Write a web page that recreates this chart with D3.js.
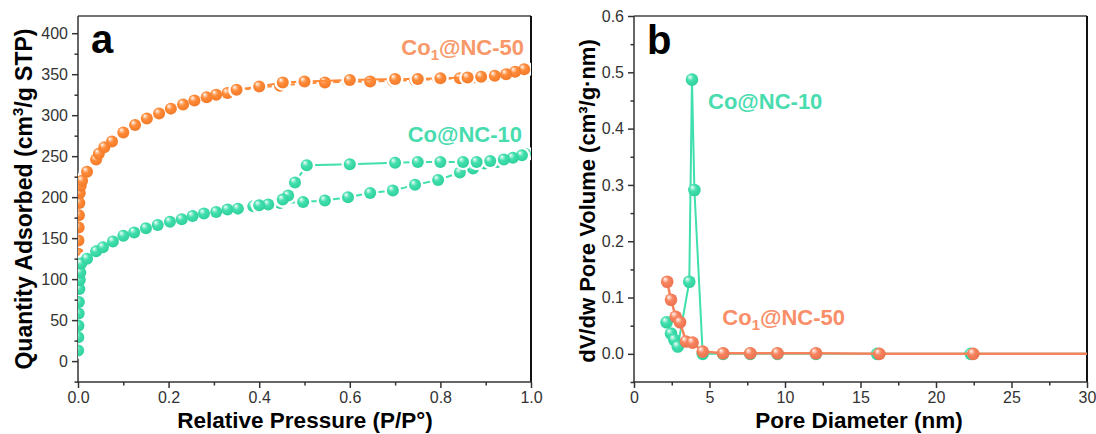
<!DOCTYPE html>
<html><head><meta charset="utf-8">
<script src="https://cdn.jsdelivr.net/npm/d3@7"></script>
<style>
body{margin:0;background:#fff;}
svg{display:block;font-family:"Liberation Sans",Arial,sans-serif;}
</style></head>
<body>
<svg id="chart" width="1096" height="434"></svg>
<script>
// ---------- Panel a: N2 isotherms ----------
const co50AdsP = [0.0005,0.001,0.0015,0.002,0.003,0.004,0.006,0.009,0.02,0.04,0.046,0.058,0.075,0.1,0.126,0.152,0.179,0.205,0.232,0.257,0.284,0.305,0.33,0.353,0.398,0.446,0.497,0.545,0.596,0.645,0.695,0.744,0.795,0.843,0.872,0.898,0.925,0.95,0.97,0.987];
const co50AdsQ = [131,147,163,178,193,205,214,220,231,246,253,261,268,279,288,296,302,308,313,318,322,325,327,330,334,336,339,340,341,341,342,343,344,345,346,347,348,350,353,356];
const co50DesP = [0.985,0.965,0.945,0.92,0.89,0.86,0.8,0.75,0.7,0.6,0.5,0.452,0.4,0.35];
const co50DesQ = [356,353,350,348,347,346,345,344,344,343,341,340,335,331];
const co10AdsP = [0.0003,0.0006,0.001,0.0015,0.002,0.003,0.004,0.005,0.007,0.02,0.04,0.055,0.077,0.1,0.124,0.15,0.176,0.203,0.229,0.253,0.278,0.305,0.33,0.353,0.387,0.4,0.446,0.497,0.545,0.596,0.645,0.695,0.744,0.795,0.843,0.872,0.898,0.925,0.95,0.97,0.987];
const co10AdsQ = [13,29,43,58,72,88,99,108,119,125,134,139,146,153,157,162,166,170,173,177,180,182,185,186,189,189,193,194,196,200,205,208,215,221,230,235,241,243,246,249,253];
const co10DesP = [0.98,0.96,0.94,0.91,0.88,0.85,0.8,0.75,0.7,0.6,0.505,0.479,0.464,0.452,0.42,0.4];
const co10DesQ = [251,248,246,244,243,243,243,243,242,240,239,218,202,197,191,190];
const aXTicks = [0,0.2,0.4,0.6,0.8,1.0];
const aYTicks = [0,50,100,150,200,250,300,350,400];

// ---------- Panel b: pore size distribution ----------
const co10PoreD = [2.16,2.45,2.67,2.9,3.66,3.84,4.0,4.55,5.9,7.7,9.5,12.05,16.1,22.3,33];
const co10PoreV = [0.056,0.036,0.025,0.013,0.128,0.487,0.291,0.0,0.0,0.0,0.0,0.0,0.0,0.0,0.0];
const co50PoreD = [2.2,2.45,2.76,3.05,3.44,3.88,4.55,5.9,7.7,9.5,12.05,16.25,22.47,33];
const co50PoreV = [0.128,0.096,0.066,0.056,0.022,0.020,0.004,0.001,0.001,0.001,0.001,0.0,0.0,0.0];
const bXTicks = [0,5,10,15,20,25,30];
const bYTicks = [0.0,0.1,0.2,0.3,0.4,0.5,0.6];

const svg = d3.select("#chart");
const defs = svg.append("defs");

function sphere(id, base, dark){
  const g = defs.append("radialGradient").attr("id", id)
    .attr("cx","0.45").attr("cy","0.42").attr("r","0.6").attr("fx","0.32").attr("fy","0.28");
  g.append("stop").attr("offset","0").attr("stop-color","#ffffff");
  g.append("stop").attr("offset","0.22").attr("stop-color", d3.interpolateRgb("#ffffff", base)(0.55));
  g.append("stop").attr("offset","0.45").attr("stop-color", base);
  g.append("stop").attr("offset","1").attr("stop-color", dark);
}
const ORA = "#ff8a38", GRN = "#40dfad", SAL = "#f7835d";
sphere("gOra", ORA, "#f27a28");
sphere("gGrn", GRN, "#2fcf9c");
sphere("gSal", SAL, "#ec7250");

const tickColor = "#333";
function panel(opts){
  const {x0,x1,y0,y1,xDom,yDom,xTicks,yTicks,xMinor,yMinor,xFmt,yFmt,id} = opts;
  const x = d3.scaleLinear().domain(xDom).range([x0,x1]);
  const y = d3.scaleLinear().domain(yDom).range([y1,y0]);
  const g = svg.append("g");
  defs.append("clipPath").attr("id", id).append("rect")
    .attr("x", x0).attr("y", y0).attr("width", x1-x0).attr("height", y1-y0);
  const xa = d3.axisBottom(x).tickValues(xMinor).tickSize(3.5).tickFormat("");
  g.append("g").attr("transform",`translate(0,${y1})`).call(xa).call(s=>s.select(".domain").remove())
    .selectAll("line").attr("stroke",tickColor).attr("stroke-width",1.5);
  const ya = d3.axisLeft(y).tickValues(yMinor).tickSize(3.5).tickFormat("");
  g.append("g").attr("transform",`translate(${x0},0)`).call(ya).call(s=>s.select(".domain").remove())
    .selectAll("line").attr("stroke",tickColor).attr("stroke-width",1.5);
  const xA = d3.axisBottom(x).tickValues(xTicks).tickSize(6).tickPadding(4).tickFormat(xFmt);
  const gx = g.append("g").attr("transform",`translate(0,${y1})`).call(xA);
  gx.select(".domain").remove();
  gx.selectAll("line").attr("stroke",tickColor).attr("stroke-width",1.5);
  gx.selectAll("text").attr("font-size",16).attr("fill",tickColor).attr("font-family","Liberation Sans, Arial, sans-serif");
  const yA = d3.axisLeft(y).tickValues(yTicks).tickSize(6).tickPadding(4).tickFormat(yFmt);
  const gy = g.append("g").attr("transform",`translate(${x0},0)`).call(yA);
  gy.select(".domain").remove();
  gy.selectAll("line").attr("stroke",tickColor).attr("stroke-width",1.5);
  gy.selectAll("text").attr("font-size",16).attr("fill",tickColor).attr("font-family","Liberation Sans, Arial, sans-serif");
  g.append("line").attr("x1",x0).attr("x2",x1).attr("y1",y0).attr("y2",y0).attr("stroke","#444").attr("stroke-width",1.5);
  g.append("line").attr("x1",x1).attr("x2",x1).attr("y1",y0).attr("y2",y1).attr("stroke","#111").attr("stroke-width",2);
  g.append("line").attr("x1",x0).attr("x2",x0).attr("y1",y0).attr("y2",y1+0.75).attr("stroke","#333").attr("stroke-width",1.5);
  g.append("line").attr("x1",x0-0.75).attr("x2",x1+1).attr("y1",y1).attr("y2",y1).attr("stroke","#333").attr("stroke-width",1.5);
  const plot = svg.append("g").attr("clip-path",`url(#${id})`);
  return {x,y,plot};
}

function series(p, xs, ys, color, grad, opt){
  const pts = xs.map((v,i)=>[v, ys[i]]);
  const line = d3.line().x(d=>p.x(d[0])).y(d=>p.y(d[1]));
  p.plot.append("path").attr("d", line(pts)).attr("fill","none")
    .attr("stroke", color).attr("stroke-width", opt.lw).attr("stroke-linejoin","round");
  if (opt.halo){
    p.plot.append("g").selectAll("circle").data(pts).join("circle")
      .attr("cx",d=>p.x(d[0])).attr("cy",d=>p.y(d[1])).attr("r",opt.r+2.4).attr("fill","#fff");
  }
  p.plot.append("g").selectAll("circle").data(pts).join("circle")
    .attr("cx",d=>p.x(d[0])).attr("cy",d=>p.y(d[1])).attr("r",opt.r).attr("fill",`url(#${grad})`);
}

const pa = panel({id:"clipA", x0:78, x1:531, y0:16, y1:382, xDom:[0,1], yDom:[-25.5,421],
  xTicks:aXTicks, yTicks:aYTicks, xMinor:[0.1,0.3,0.5,0.7,0.9], yMinor:d3.range(-25,425,50),
  xFmt:d3.format(".1f"), yFmt:d3.format("d")});
series(pa, co50AdsP, co50AdsQ, ORA, "gOra", {lw:2, r:6, halo:true});
series(pa, co50DesP, co50DesQ, ORA, "gOra", {lw:2, r:6, halo:true});
series(pa, co10AdsP, co10AdsQ, GRN, "gGrn", {lw:2, r:6, halo:true});
series(pa, co10DesP, co10DesQ, GRN, "gGrn", {lw:2, r:6, halo:true});

const pb = panel({id:"clipB", x0:634, x1:1087, y0:16, y1:382, xDom:[0,30], yDom:[-0.05,0.6],
  xTicks:bXTicks, yTicks:bYTicks, xMinor:[2.5,7.5,12.5,17.5,22.5,27.5], yMinor:[-0.05,0.05,0.15,0.25,0.35,0.45,0.55],
  xFmt:d3.format("d"), yFmt:d3.format(".1f")});
series(pb, co10PoreD, co10PoreV, GRN, "gGrn", {lw:2, r:6.3, halo:false});
series(pb, co50PoreD, co50PoreV, SAL, "gSal", {lw:2.5, r:6.3, halo:false});

// Titles
const TS = 22.5;
svg.append("text").attr("x",305).attr("y",428.3).attr("text-anchor","middle")
  .attr("font-size",TS).attr("font-weight","bold").attr("fill","#000").text("Relative Pressure (P/P\u00B0)");
svg.append("text").attr("x",859).attr("y",428.3).attr("text-anchor","middle")
  .attr("font-size",TS).attr("font-weight","bold").attr("fill","#000").text("Pore Diameter (nm)");
const ta = svg.append("text").attr("transform","translate(32,199) rotate(-90)").attr("text-anchor","middle")
  .attr("font-size",23).attr("font-weight","bold").attr("fill","#000");
ta.append("tspan").text("Quantity Adsorbed (cm");
ta.append("tspan").attr("font-size",15).attr("dy",-9).text("3");
ta.append("tspan").attr("dy",9).text("/g STP)");
svg.append("text").attr("transform","translate(595,201) rotate(-90)").attr("text-anchor","middle")
  .attr("font-size",22).attr("font-weight","bold").attr("fill","#000").text("dV/dw Pore Volume (cm\u00B3/g\u00B7nm)");

svg.append("text").attr("x",91).attr("y",53).attr("font-size",40).attr("font-weight","bold").attr("fill","#000").text("a");
svg.append("text").attr("x",647).attr("y",54).attr("font-size",40).attr("font-weight","bold").attr("fill","#000").text("b");

function coLabel(x, y, color){
  const t = svg.append("text").attr("x",x).attr("y",y).attr("text-anchor","end")
    .attr("font-size",22).attr("font-weight","bold").attr("fill",color);
  t.append("tspan").text("Co");
  t.append("tspan").attr("font-size",15).attr("dy",5).text("1");
  t.append("tspan").attr("dy",-5).text("@NC-50");
}
coLabel(524, 55, "#f89868");
svg.append("text").attr("x",522).attr("y",142).attr("text-anchor","end")
  .attr("font-size",22).attr("font-weight","bold").attr("fill","#48dcaf").text("Co@NC-10");
svg.append("text").attr("x",708).attr("y",109)
  .attr("font-size",22).attr("font-weight","bold").attr("fill","#48dcaf").text("Co@NC-10");
coLabel(845, 325, "#f98e68");
</script>
</body></html>
